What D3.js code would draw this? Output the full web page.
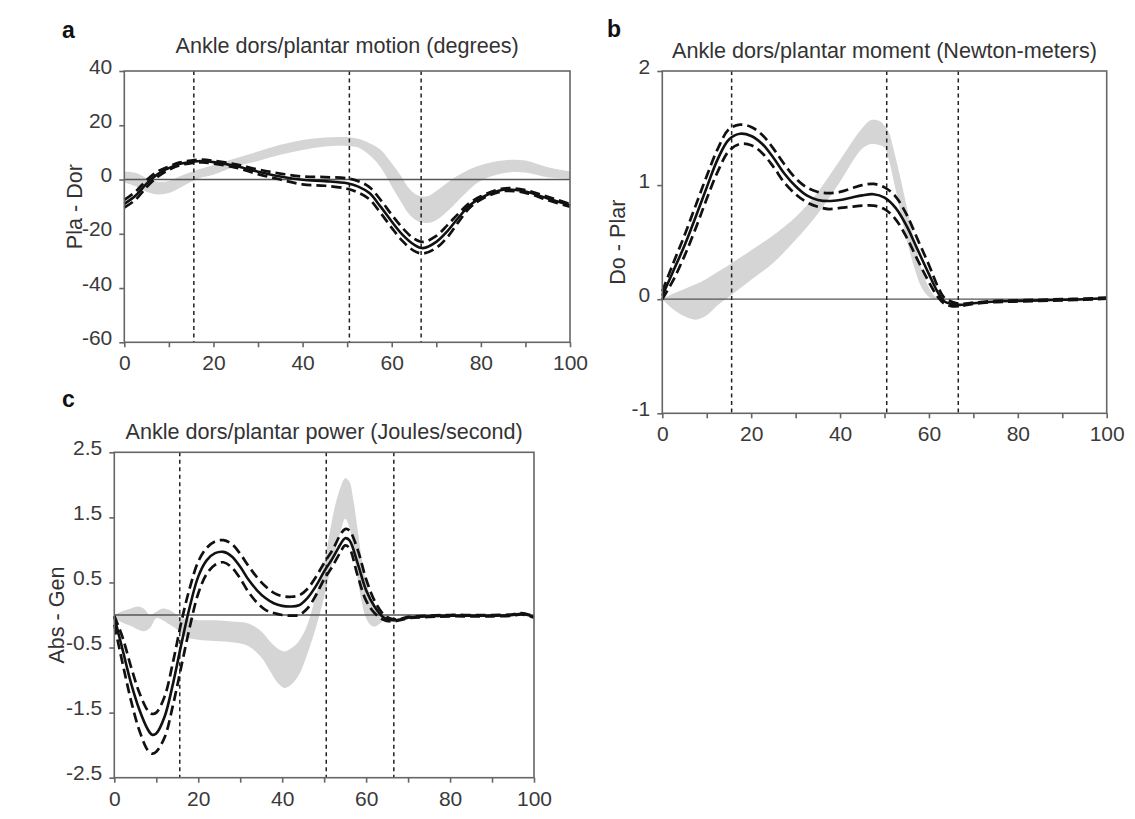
<!DOCTYPE html>
<html>
<head>
<meta charset="utf-8">
<script src="https://cdn.jsdelivr.net/npm/d3@7"></script>
<style>
  body { margin: 0; background: #fff; }
  text { font-family: "Liberation Sans", Arial, Helvetica, sans-serif; }
</style>
</head>
<body>
<div id="chart"></div>
<script>
const width = 1135;
const height = 819;

// gait cycle phase boundaries (% of cycle)
const phaseLines = [15.6, 50.5, 66.6];
const xTicks = [0, 10, 20, 30, 40, 50, 60, 70, 80, 90, 100];

// --- a: ankle motion (degrees)
const motionX = [0, 2.5, 5, 7.5, 10, 12.5, 15, 17.5, 20, 25, 30, 35, 40, 45, 50, 52.5, 55, 57.5, 60, 62.5, 65, 67, 70, 72.5, 75, 77.5, 80, 85, 90, 95, 100];
const motionMean = [-9, -6, -1.5, 2, 4.2, 5.8, 6.5, 6.8, 6.4, 5.0, 2.9, 1.1, -0.1, -0.6, -1.4, -2.6, -5, -10, -15.5, -20.5, -24, -25.3, -23, -19, -14, -9.5, -6.8, -3.8, -4.4, -7, -9.5];
const motionUpper = [-7.5, -4.5, -0.2, 3, 4.8, 6.3, 7, 7.3, 6.9, 5.6, 3.7, 2.2, 1.1, 0.9, 0.4, -0.6, -2.8, -7.5, -13, -18, -21.8, -23, -20.8, -16.8, -12.5, -8.6, -6.2, -3.3, -3.9, -6.4, -9];
const motionLower = [-10.3, -7.5, -2.8, 1, 3.6, 5.3, 6, 6.3, 5.9, 4.4, 2.0, 0, -1.8, -2.3, -3.4, -4.8, -7.3, -12.3, -17.8, -22.8, -26.3, -27.3, -25.2, -21.2, -15.6, -10.4, -7.4, -4.3, -4.9, -7.6, -10];
const motionBandX = [0, 2.5, 5, 7.5, 10, 12.5, 15, 17.5, 20, 25, 30, 35, 40, 45, 50, 52.5, 55, 57.5, 60, 62, 64, 66, 68, 70, 73, 76, 79, 82, 86, 90, 95, 100];
const motionBandHi = [3, 2.5, 0.5, -0.8, -0.5, 1.2, 2.8, 4.2, 5.3, 7.8, 10.3, 12.8, 14.6, 15.5, 15.6, 15, 13.4, 11, 6, 1.5, -3.5, -6, -6.2, -4.2, -0.5, 2.5, 4.8, 6.2, 7.2, 7, 4.5, 3];
const motionBandLo = [-1, -2.5, -4.5, -5.5, -5, -3, -0.8, 0.8, 1.8, 4.8, 6.8, 9.1, 10.9, 12.2, 12.4, 11.8, 9, 4.5, -2.5, -8, -13, -15.5, -16, -15, -11, -6, -1.5, 1, 2.6, 2.6, 0.8, 0.2];
const motionTicks = [40, 20, 0, -20, -40, -60];

// --- b: ankle moment (Newton-meters)
const momentX = [0, 2.5, 5, 7.5, 10, 12.5, 15, 17.5, 20, 22.5, 25, 27.5, 30, 32.5, 35, 37.5, 40, 42.5, 45, 47.5, 50, 52.5, 55, 57.5, 60, 62, 63.5, 65, 67, 70, 75, 80, 85, 90, 95, 100];
const momentMean = [0.03, 0.25, 0.47, 0.72, 0.98, 1.23, 1.40, 1.45, 1.43, 1.36, 1.24, 1.10, 0.99, 0.91, 0.87, 0.86, 0.87, 0.89, 0.91, 0.92, 0.89, 0.80, 0.64, 0.43, 0.22, 0.06, -0.02, -0.04, -0.05, -0.035, -0.02, -0.015, -0.01, -0.005, 0.0, 0.01];
const momentUpper = [0.07, 0.32, 0.56, 0.82, 1.08, 1.32, 1.49, 1.53, 1.51, 1.44, 1.32, 1.18, 1.06, 0.98, 0.94, 0.93, 0.94, 0.97, 1.0, 1.01, 0.98, 0.90, 0.74, 0.52, 0.30, 0.11, 0.01, -0.02, -0.04, -0.03, -0.015, -0.01, -0.005, 0.0, 0.005, 0.015];
const momentLower = [0.0, 0.17, 0.38, 0.62, 0.88, 1.12, 1.30, 1.36, 1.35, 1.28, 1.16, 1.02, 0.92, 0.85, 0.81, 0.79, 0.80, 0.81, 0.82, 0.82, 0.79, 0.70, 0.54, 0.34, 0.15, 0.02, -0.04, -0.06, -0.06, -0.04, -0.025, -0.02, -0.015, -0.01, -0.005, 0.005];
const momentBandX = [0, 2.5, 5, 7.5, 10, 12.5, 15, 20, 25, 30, 35, 40, 45, 47, 49, 50, 51, 52, 53, 54, 55, 56, 57, 58, 59, 60, 61, 62];
const momentBandHi = [0.0, 0.05, 0.09, 0.13, 0.18, 0.24, 0.30, 0.43, 0.56, 0.72, 0.94, 1.22, 1.50, 1.57, 1.56, 1.52, 1.46, 1.32, 1.16, 0.99, 0.81, 0.63, 0.46, 0.31, 0.19, 0.10, 0.04, 0.01];
const momentBandLo = [0.0, -0.09, -0.15, -0.18, -0.14, -0.05, 0.02, 0.17, 0.32, 0.52, 0.75, 1.03, 1.32, 1.36, 1.35, 1.33, 1.22, 1.05, 0.87, 0.69, 0.52, 0.37, 0.24, 0.13, 0.06, 0.02, 0.0, 0.0];
const momentTicks = [2, 1, 0, -1];

// --- c: ankle power (Joules/second)
const powerX = [0, 2, 4, 6, 8, 9, 10, 12, 14, 16, 18, 20, 22, 24, 26, 28, 30, 32, 34, 36, 38, 40, 42, 44, 46, 48, 50, 52, 54, 55, 56, 58, 60, 62, 64, 66, 68, 70, 75, 80, 85, 90, 95, 97, 100];
const powerMean = [-0.03, -0.54, -1.05, -1.46, -1.76, -1.84, -1.82, -1.56, -1.05, -0.44, 0.13, 0.59, 0.84, 0.95, 0.97, 0.90, 0.74, 0.54, 0.38, 0.26, 0.18, 0.14, 0.13, 0.15, 0.26, 0.44, 0.67, 0.87, 1.10, 1.18, 1.15, 0.79, 0.38, 0.13, -0.03, -0.08, -0.07, -0.04, -0.02, -0.01, -0.01, -0.01, 0.0, 0.02, -0.03];
const powerUpper = [-0.01, -0.35, -0.8, -1.2, -1.47, -1.52, -1.5, -1.25, -0.72, -0.1, 0.42, 0.82, 1.03, 1.13, 1.15, 1.09, 0.94, 0.75, 0.58, 0.44, 0.34, 0.29, 0.28, 0.3, 0.4, 0.58, 0.8, 1.0, 1.25, 1.32, 1.3, 1.0, 0.55, 0.22, 0.02, -0.06, -0.06, -0.03, -0.01, 0.0, 0.0, 0.0, 0.01, 0.03, -0.02];
const powerLower = [-0.15, -0.75, -1.32, -1.78, -2.08, -2.13, -2.1, -1.88, -1.38, -0.78, -0.18, 0.33, 0.63, 0.77, 0.81, 0.73, 0.56, 0.35, 0.19, 0.08, 0.03, 0.0, -0.01, 0.0, 0.1, 0.3, 0.55, 0.75, 0.98, 1.07, 1.03, 0.6, 0.22, 0.03, -0.07, -0.1, -0.08, -0.05, -0.03, -0.02, -0.02, -0.02, -0.01, 0.01, -0.04];
const powerBandX = [0, 2, 4, 5.5, 7, 8.5, 10, 11.5, 13, 14.5, 16, 17.5, 20, 24, 28, 32, 35, 37, 39, 40.5, 42, 44, 46, 48, 49.5, 51, 52.5, 54, 55, 56, 57, 58, 59, 60, 61, 62, 63.5, 65];
const powerBandHi = [0.0, 0.06, 0.1, 0.13, 0.1, 0.0, 0.05, 0.1, 0.08, 0.02, -0.05, -0.05, -0.08, -0.08, -0.1, -0.13, -0.25, -0.4, -0.52, -0.56, -0.52, -0.4, -0.15, 0.3, 0.65, 1.15, 1.65, 1.98, 2.1, 2.05, 1.75, 1.3, 0.85, 0.5, 0.28, 0.14, 0.04, 0.0];
const powerBandLo = [-0.05, -0.12, -0.17, -0.22, -0.25, -0.2, -0.05, -0.08, -0.14, -0.2, -0.28, -0.35, -0.38, -0.4, -0.42, -0.48, -0.65, -0.85, -1.05, -1.12, -1.08, -0.92, -0.6, -0.2, 0.15, 0.55, 0.95, 1.3, 1.48, 1.35, 0.98, 0.55, 0.18, -0.05, -0.15, -0.18, -0.12, -0.02];
const powerTicks = [2.5, 1.5, 0.5, -0.5, -1.5, -2.5];

const svg = d3.select("#chart").append("svg")
    .attr("width", width)
    .attr("height", height);

svg.append("rect").attr("width", width).attr("height", height).attr("fill", "#fff");

function drawPanel(p) {
    const x = d3.scaleLinear().domain([0, 100]).range([p.left, p.right]);
    const y = d3.scaleLinear().domain(p.yDomain).range([p.bottom, p.top]);
    const g = svg.append("g");

    // normal-range band
    const band = p.bandX.map((d, i) => ({x: d, lo: p.bandLo[i], hi: p.bandHi[i]}));
    g.append("path")
        .datum(band)
        .attr("fill", "#d5d5d5")
        .attr("d", d3.area()
            .curve(d3.curveCatmullRom)
            .x(d => x(d.x))
            .y0(d => y(d.lo))
            .y1(d => y(d.hi)));

    // zero line
    g.append("line")
        .attr("x1", p.left).attr("x2", p.right)
        .attr("y1", y(0)).attr("y2", y(0))
        .attr("stroke", "#555")
        .attr("stroke-width", 1.3);

    // phase lines
    g.selectAll(".phase")
        .data(phaseLines)
        .join("line")
          .attr("class", "phase")
          .attr("x1", d => x(d)).attr("x2", d => x(d))
          .attr("y1", p.top).attr("y2", p.bottom)
          .attr("stroke", "#222")
          .attr("stroke-width", 1.5)
          .attr("stroke-dasharray", "4,3.5");

    const line = vals => d3.line()
        .curve(d3.curveCatmullRom)
        .x((d, i) => x(p.lineX[i]))
        .y(d => y(d))(vals);

    [p.upper, p.lower].forEach(vals => {
        g.append("path")
            .attr("d", line(vals))
            .attr("fill", "none")
            .attr("stroke", "#111")
            .attr("stroke-width", 2.7)
            .attr("stroke-dasharray", "10,5");
    });
    g.append("path")
        .attr("d", line(p.mean))
        .attr("fill", "none")
        .attr("stroke", "#111")
        .attr("stroke-width", 2.6);

    // frame
    g.append("rect")
        .attr("x", p.left).attr("y", p.top)
        .attr("width", p.right - p.left).attr("height", p.bottom - p.top)
        .attr("fill", "none")
        .attr("stroke", "#666")
        .attr("stroke-width", 1.6);

    // axes
    const xAxis = g.append("g")
        .attr("transform", `translate(0,${p.bottom})`)
        .call(d3.axisBottom(x)
            .tickValues(xTicks)
            .tickSize(5)
            .tickPadding(8)
            .tickFormat(d => d % 20 === 0 ? d : ""));
    const yAxis = g.append("g")
        .attr("transform", `translate(${p.left},0)`)
        .call(d3.axisLeft(y)
            .tickValues(p.yTicks)
            .tickSize(5)
            .tickPadding(7)
            .tickFormat(d => d));
    [xAxis, yAxis].forEach(a => {
        a.select(".domain").remove();
        a.selectAll(".tick line").attr("stroke", "#666").attr("stroke-width", 1.6);
        a.selectAll(".tick text")
            .attr("fill", "#3a3a3a")
            .style("font-size", "21px");
    });
    yAxis.selectAll(".tick text").attr("dy", "0.1em");

    // titles
    g.append("text")
        .attr("x", (p.left + p.right) / 2)
        .attr("y", p.titleY)
        .attr("text-anchor", "middle")
        .attr("fill", "#333")
        .style("font-size", "21.6px")
        .text(p.title);

    g.append("text")
        .attr("transform", `translate(${p.left - p.yLabelOffset},${(p.top + p.bottom) / 2}) rotate(-90)`)
        .attr("text-anchor", "middle")
        .attr("dy", "0.35em")
        .attr("fill", "#333")
        .style("font-size", "21.6px")
        .text(p.yLabel);

    svg.append("text")
        .attr("x", p.tagX).attr("y", p.tagY)
        .attr("fill", "#111")
        .style("font-size", "23px")
        .style("font-weight", "bold")
        .text(p.tag);
}

drawPanel({
    tag: "a", tagX: 62, tagY: 38,
    title: "Ankle dors/plantar motion (degrees)", titleY: 53,
    yLabel: "Pla - Dor", yLabelOffset: 50,
    left: 124.3, right: 570, top: 71, bottom: 342.3,
    yDomain: [-60, 40], yTicks: motionTicks,
    lineX: motionX, mean: motionMean, upper: motionUpper, lower: motionLower,
    bandX: motionBandX, bandLo: motionBandLo, bandHi: motionBandHi
});

drawPanel({
    tag: "b", tagX: 607, tagY: 37,
    title: "Ankle dors/plantar moment (Newton-meters)", titleY: 58,
    yLabel: "Do - Plar", yLabelOffset: 45,
    left: 662.3, right: 1106.7, top: 71, bottom: 413.3,
    yDomain: [-1, 2], yTicks: momentTicks,
    lineX: momentX, mean: momentMean, upper: momentUpper, lower: momentLower,
    bandX: momentBandX, bandLo: momentBandLo, bandHi: momentBandHi
});

drawPanel({
    tag: "c", tagX: 62, tagY: 407,
    title: "Ankle dors/plantar power (Joules/second)", titleY: 439,
    yLabel: "Abs - Gen", yLabelOffset: 58,
    left: 114.3, right: 534, top: 452.3, bottom: 777.7,
    yDomain: [-2.5, 2.5], yTicks: powerTicks,
    lineX: powerX, mean: powerMean, upper: powerUpper, lower: powerLower,
    bandX: powerBandX, bandLo: powerBandLo, bandHi: powerBandHi
});
</script>
</body>
</html>
